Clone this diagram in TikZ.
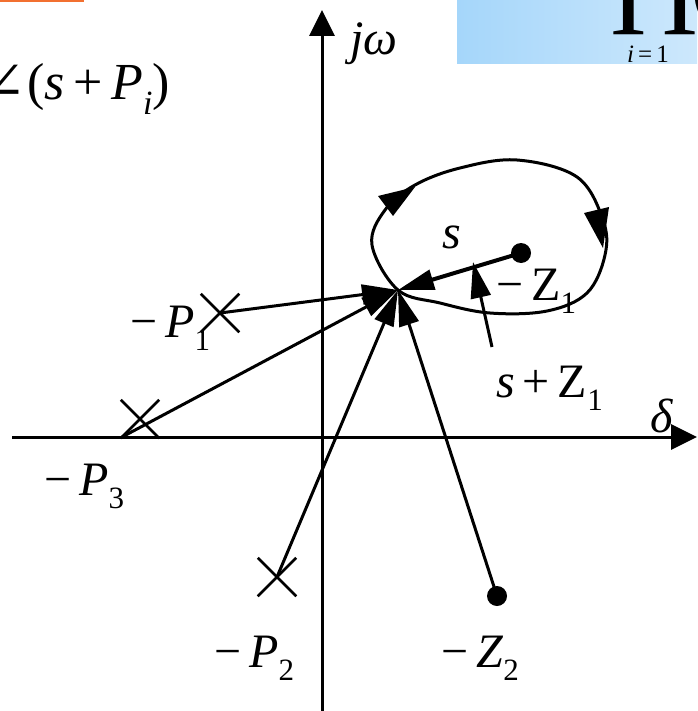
\documentclass[tikz,border=0pt]{standalone}
\usepackage{fontspec}
\setmainfont{Liberation Serif}
\newfontfamily\djv{DejaVu Serif}
\usetikzlibrary{arrows.meta,shapes.misc}
\definecolor{boxL}{RGB}{165,214,250}
\definecolor{boxR}{RGB}{205,232,252}
\definecolor{barc}{RGB}{242,112,48}
\newcommand{\lblfont}{\fontsize{48}{52}\selectfont}
\newcommand{\sbs}[1]{\raisebox{-0.28em}{\fontsize{31}{33}\selectfont #1}}
\begin{document}
\begin{tikzpicture}[x=1pt,y=-1pt,
  pole/.style={cross out,draw,line width=2.5pt,minimum size=36pt,inner sep=0pt},
  zero/.style={circle,fill,minimum size=20pt,inner sep=0pt},
  vec/.style={line width=3pt,-{Triangle[length=36pt,width=20pt]}},
  axisline/.style={line width=3pt,-{Triangle[length=26pt,width=25pt]}},
  lab/.style={inner sep=0pt,font=\lblfont},
  contour/.style={line width=3pt}]
\useasboundingbox (0,0) rectangle (697,711);
\clip (0,0) rectangle (697,711);
% decorations at top
\fill[barc] (0,0) rectangle (84,2.5);
\shade[left color=boxL,right color=boxR] (457,0) rectangle (697,64);
\node[inner sep=0pt,anchor=south west,font=\fontsize{114}{114}\selectfont] (prod) at (607,35) {∏};
\node[inner sep=0pt,anchor=south west,font=\fontsize{112}{112}\selectfont] (paren) at (689,38) {(};
\node[inner sep=0pt,anchor=base,font=\fontsize{25}{25}\selectfont] (lim) at (648,63) {\textit{i}\,=\,1};
\node[inner sep=0pt,anchor=base east,font=\fontsize{52}{56}\selectfont] (angsym) at (26,100) {{\djv ∠}};
\node[inner sep=0pt,anchor=base west,font=\fontsize{52}{56}\selectfont] (angle) at (27,100) {(\textit{s}\,+\,\textit{P}\raisebox{-0.28em}{\fontsize{34}{36}\selectfont\textit{i}})};
% axes
\coordinate (xl) at (12,437);
\coordinate (xr) at (697,437);
\coordinate (yb) at (322,711);
\coordinate (yt) at (322,10);
\draw[axisline] (xl) -- (xr);
\draw[axisline] (yb) -- (yt);
\node[lab,anchor=base west] (jw) at (350,55) {\textit{jω}};
\node[lab,anchor=base] (delta) at (662,432) {\textit{δ}};
% point s and contour
\coordinate (s) at (398,290);
\draw[contour] plot[smooth cycle,tension=0.6] coordinates {(398,290) (372,245) (385,210) (415,185) (460,168) (517,160) (577,177) (603,220) (605,255) (587,293) (547,311) (490,313) (440,303)};
\fill (415,187) -- (393,216) -- (378,196) -- cycle;
\fill (603,248) -- (609,207) -- (584,213) -- cycle;
\node[lab,anchor=base] (slab) at (452,248) {\textit{s}};
% zeros and poles
\node[zero] (z1) at (521,253) {};
\node[zero] (z2) at (497,596) {};
\node[pole] (p1) at (220,313) {};
\node[pole] (p3) at (140,419) {};
\coordinate (p3b) at (122,437);
\node[pole] (p2) at (277,577) {};
% vectors
\draw[vec,line width=4pt] (z1.center) -- (s);
\draw[vec] (p1.center) -- (s);
\draw[vec] (p3b) -- (s);
\draw[vec] (p2.center) -- (s);
\draw[vec] (z2.center) -- (s);
\coordinate (sz0) at (492,347);
\coordinate (sz1) at (473,262);
\draw[vec] (sz0) -- (sz1);
% labels
\node[lab,anchor=base west] (lz1) at (496,300) {−\,Z\sbs{1}};
\node[lab,anchor=base west] (lsz) at (496,397) {\textit{s}\,+\,Z\sbs{1}};
\node[lab,anchor=base west] (lp1) at (130,337) {−\,\textit{P}\sbs{1}};
\node[lab,anchor=base west] (lp3) at (44,495) {−\,\textit{P}\sbs{3}};
\node[lab,anchor=base west] (lp2) at (214,667) {−\,\textit{P}\sbs{2}};
\node[lab,anchor=base west] (lz2) at (441,667) {−\,\textit{Z}\sbs{2}};
\end{tikzpicture}
\end{document}
